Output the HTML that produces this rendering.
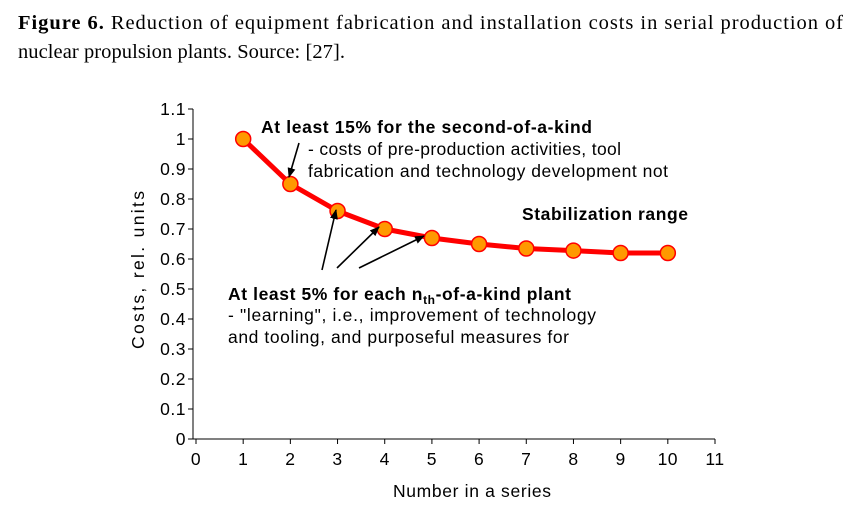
<!DOCTYPE html>
<html><head><meta charset="utf-8"><style>
body{margin:0;background:#fff;width:853px;height:515px;overflow:hidden}
svg{display:block}
.t{font-family:"Liberation Sans",Arial,sans-serif;font-size:17.5px;fill:#000}
.b{font-weight:bold}
.cap{font-family:"Liberation Serif","Times New Roman",serif;font-size:20.5px;fill:#000}
</style></head><body>
<svg id="chart" width="853" height="515">
<defs><marker id="ah" markerWidth="10" markerHeight="8" refX="9" refY="4" orient="auto" markerUnits="userSpaceOnUse"><path d="M0,0 L10,4 L0,8 z" fill="#000"/></marker></defs>
<text class="cap" x="18" y="29" textLength="825" lengthAdjust="spacing"><tspan font-weight="bold">Figure 6.</tspan> Reduction of equipment fabrication and installation costs in serial production of</text>
<text class="cap" x="18" y="58" textLength="327" lengthAdjust="spacing">nuclear propulsion plants. Source: [27].</text>
<g id="axes"></g>
<g id="series"></g>
<text class="t b" x="261" y="133" textLength="331" lengthAdjust="spacing">At least 15% for the second-of-a-kind</text>
<text class="t" x="308" y="155" textLength="313" lengthAdjust="spacing">- costs of pre-production activities, tool</text>
<text class="t" x="308" y="177" textLength="360" lengthAdjust="spacing">fabrication and technology development not</text>
<text class="t b" x="522" y="220" textLength="166" lengthAdjust="spacing">Stabilization range</text>
<text class="t b" x="228" y="300" letter-spacing="0.6">At least 5% for each n<tspan font-size="12" dy="4">th</tspan><tspan dy="-4">-of-a-kind plant</tspan></text>
<text class="t" x="228" y="321" textLength="368" lengthAdjust="spacing">-  "learning", i.e., improvement of technology</text>
<text class="t" x="228" y="343" textLength="341" lengthAdjust="spacing">and tooling, and purposeful measures for</text>
<g stroke="#000" stroke-width="1.6" marker-end="url(#ah)">
<line x1="299" y1="143" x2="289" y2="177"/>
<line x1="322" y1="270" x2="336" y2="210"/>
<line x1="337" y1="268" x2="379" y2="227"/>
<line x1="359" y1="268" x2="424" y2="236"/>
</g>
<text class="t" x="0" y="0" transform="translate(144,270) rotate(-90)" text-anchor="middle" textLength="158" lengthAdjust="spacing">Costs, rel. units</text>
<text class="t" x="393" y="497" textLength="158" lengthAdjust="spacing">Number in a series</text>
</svg>
<script>
const categories=[1,2,3,4,5,6,7,8,9,10];
const costs=[1.0,0.85,0.76,0.70,0.67,0.65,0.635,0.628,0.62,0.62];
const yTicks=[0,0.1,0.2,0.3,0.4,0.5,0.6,0.7,0.8,0.9,1,1.1];
const xTicks=[0,1,2,3,4,5,6,7,8,9,10,11];
const NS='http://www.w3.org/2000/svg';
const X0=196,X1=715,Y0=439,Y1=109;
const xs=v=>X0+(X1-X0)*v/11;
const ys=v=>Y0-(Y0-Y1)*v/1.1;
function mk(tag,attrs,parent){const e=document.createElementNS(NS,tag);for(const k in attrs)e.setAttribute(k,attrs[k]);parent.appendChild(e);return e;}
const ax=document.getElementById('axes');
let l=mk('line',{x1:X0-3,y1:Y1,x2:X0-3,y2:Y0,stroke:'#000','stroke-width':1},ax);


l=mk('line',{x1:X0-3,y1:Y0,x2:X1,y2:Y0,stroke:'#000','stroke-width':1},ax);


yTicks.forEach(v=>{const y=ys(v);
 mk('line',{x1:X0-8,y1:y,x2:X0-3,y2:y,stroke:'#000'},ax);
 const t=mk('text',{x:X0-10,y:y+6,'text-anchor':'end',class:'t','letter-spacing':'0.5'},ax);t.textContent=String(v);
 
 });
xTicks.forEach(v=>{const x=xs(v);
 mk('line',{x1:x,y1:Y0,x2:x,y2:Y0+5,stroke:'#000'},ax);
 const t=mk('text',{x:x,y:Y0+26,'text-anchor':'middle',class:'t','letter-spacing':'0.5'},ax);t.textContent=String(v);
 
 });
const sg=document.getElementById('series');
const pl=mk('polyline',{points:categories.map((c,i)=>xs(c)+','+ys(costs[i])).join(' '),fill:'none',stroke:'#ff0000','stroke-width':5,'stroke-linejoin':'round'},sg);


categories.forEach((c,i)=>{const p=mk('circle',{cx:xs(c),cy:ys(costs[i]),r:7.5,fill:'#ff9900',stroke:'#ff0000','stroke-width':1.5},sg);
 
 });
</script>
</body></html>
